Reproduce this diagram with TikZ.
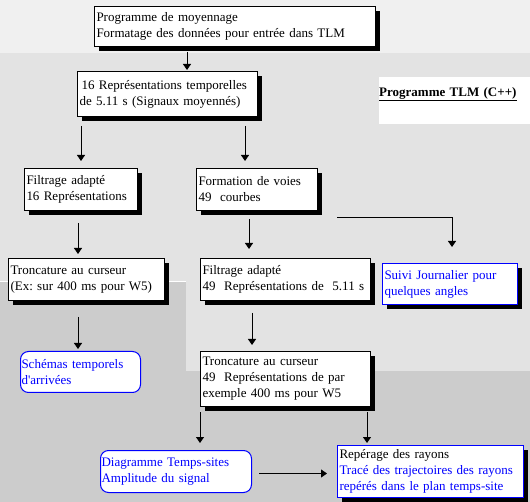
\documentclass[tikz,border=0pt]{standalone}
\usepackage{fontspec}
\setmainfont{Liberation Serif}
\usetikzlibrary{arrows.meta,calc,shadows}
\frenchspacing

\begin{document}
\begin{tikzpicture}[x=1pt, y=-1pt, font=\fontsize{13}{16}\selectfont,
  fleche/.style={-{Triangle[width=8pt,length=6pt]}, line width=1pt},
  boite/.style={draw, line width=1pt, fill=white, anchor=north west, align=left,
    inner xsep=2pt, inner ysep=1pt,
    drop shadow={shadow xshift=4.5pt, shadow yshift=-4.5pt, fill=black, opacity=1}},
  bleue/.style={boite, draw=blue, text=blue},
  arrondi/.style={draw=blue, text=blue, line width=1pt, fill=white, rounded corners=8pt,
    anchor=north west, align=left, inner xsep=1pt, inner ysep=1pt}]
  \colorlet{fondclair}{black!6}
  \colorlet{fondmoyen}{black!11}
  \colorlet{fondsombre}{black!20}

  % fonds
  \useasboundingbox (0,0) rectangle (530,502);
  \fill[fondsombre] (0,0) rectangle (530,502);
  \fill[fondmoyen] (0,53) -- (530,53) -- (530,371) -- (186,371) -- (186,281) -- (0,281) -- cycle;
  \fill[fondclair] (0,0) rectangle (530,53);
  \draw[white] (0,281) -- (186,281);

  % boites
  \node[boite, text width=277pt, minimum height=40pt] (moyennage) at (94,6)
    {Programme de moyennage\\Formatage des données pour entrée dans TLM};
  \node[boite, text width=176pt, minimum height=45pt] (representations) at (77,71)
    {\,16 Représentations temporelles\\de 5.11 s (Signaux moyennés)};
  \node[fill=white, anchor=north west, align=left, inner sep=0pt, text width=151pt,
    minimum height=47pt] (tlm) at (379,77) {\underline{\textbf{Programme TLM (C++)}}\\[-4pt]\strut};

  \node[boite, text width=109pt, minimum height=42pt] (filtrage16) at (24,168)
    {Filtrage adapté\\16 Représentations};
  \node[boite, text width=117pt, minimum height=42pt] (formation) at (196,168)
    {Formation de voies\\49\ \ courbes};

  \node[boite, text width=152pt, minimum height=42pt] (tronc16) at (8,258)
    {Troncature au curseur\\(Ex: sur 400 ms pour W5)};
  \node[boite, text width=166pt, minimum height=42pt] (filtrage49) at (200,258)
    {Filtrage adapté\\49\ \ Représentations de\ \ 5.11 s};
  \node[bleue, text width=131pt, minimum height=41pt] (suivi) at (382,263)
    {Suivi Journalier pour\\quelques angles};

  \node[arrondi, text width=118pt, minimum height=41pt] (schemas) at (20,351)
    {Schémas temporels\\d\textquotesingle arrivées};
  \node[boite, text width=166pt, minimum height=55pt] (tronc49) at (200,351)
    {Troncature au curseur\\49\ \ Représentations de par\\exemple 400 ms pour W5};

  \node[arrondi, text width=149pt, minimum height=42pt] (diagramme) at (100,450)
    {Diagramme Temps-sites\\Amplitude du signal};
  \node[bleue, text width=182pt, minimum height=52pt] (reperage) at (337,445)
    {\textcolor{black}{Repérage des rayons}\\Tracé des trajectoires des rayons\\repérés dans le plan temps-site};

  % fleches
  \draw[fleche] ($(moyennage.south west)+(93,5)$) -- ($(representations.north west)+(110,-1)$);
  \draw[fleche] ($(representations.south west)+(4,9)$) -- ($(filtrage16.north west)+(57,-7)$);
  \draw[fleche] ($(representations.south west)+(168,9)$) -- ($(formation.north west)+(49,-7)$);
  \draw[fleche] ($(filtrage16.south west)+(54,12)$) -- ($(tronc16.north west)+(70,-4)$);
  \draw[fleche] ($(formation.south west)+(53,8)$) -- ($(filtrage49.north west)+(49,-9)$);
  \draw[fleche] ($(formation.south east)+(19,7)$) -| ($(suivi.north west)+(70,-16)$);
  \draw[fleche] ($(tronc16.south west)+(70,16)$) -- ($(schemas.north west)+(58,-2)$);
  \draw[fleche] ($(filtrage49.south west)+(52,12)$) -- ($(tronc49.north west)+(52,-6)$);
  \draw[fleche] ($(tronc49.south west)+(0,5)$) -- ($(diagramme.north west)+(100,-7)$);
  \draw[fleche] ($(tronc49.south east)+(-4,5)$) -- ($(reperage.north west)+(30,-2)$);
  \draw[fleche] ($(diagramme.east)+(7,2)$) -- ($(reperage.west)+(-10,2)$);
\end{tikzpicture}
\end{document}
